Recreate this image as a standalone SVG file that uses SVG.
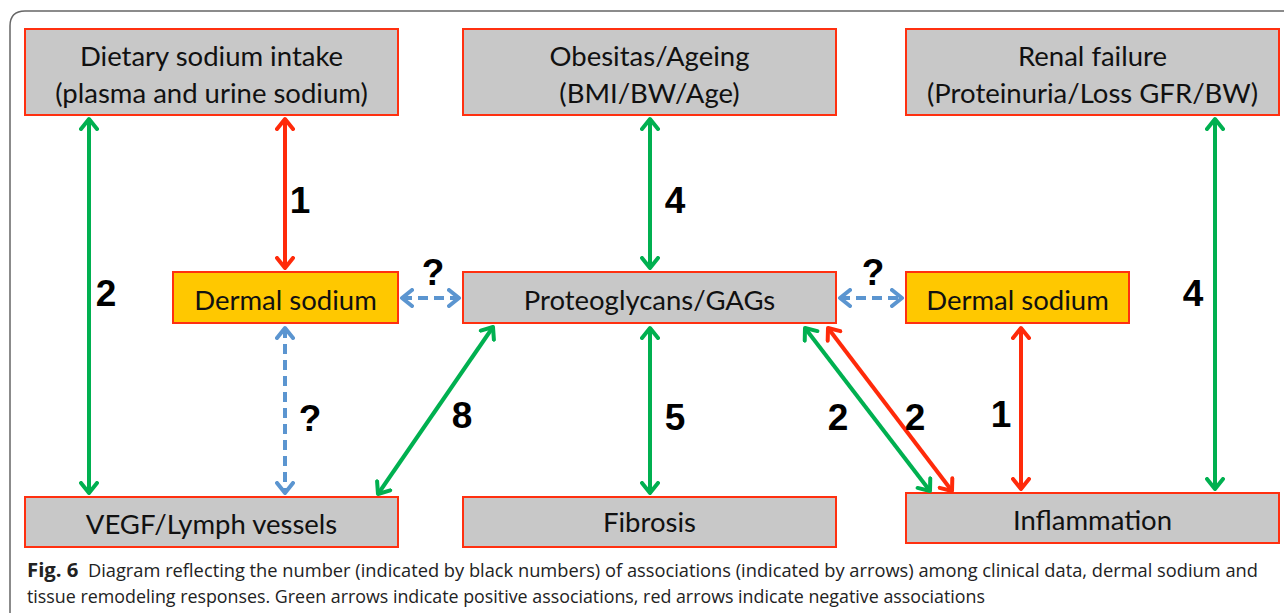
<svg xmlns="http://www.w3.org/2000/svg" width="1284" height="613" viewBox="0 0 1284 613">
<style>
.box{fill:#c8c8c8;stroke:#ff3010;stroke-width:2}
.yel{fill:#ffc800;stroke:#ff3010;stroke-width:2}
.t{font-family:Lato,"Noto Sans",sans-serif;font-size:27.5px;fill:#111;text-anchor:middle}
.n{font-family:"Liberation Sans",Arial,sans-serif;font-weight:bold;font-size:37px;fill:#000;text-anchor:middle}
.g{stroke:#00b050;stroke-width:4;fill:none;marker-start:url(#mg);marker-end:url(#mg)}
.r{stroke:#ff2a0a;stroke-width:4;fill:none;marker-start:url(#mr);marker-end:url(#mr)}
.b{stroke:#5b95d0;stroke-width:4;fill:none;stroke-dasharray:10,6;marker-start:url(#mb);marker-end:url(#mb)}
.cap{font-family:"Open Sans","Noto Sans",sans-serif;font-size:18px;fill:#222}
</style>
<defs>
<marker id="mg" viewBox="-12 -10 24 20" refX="0" refY="0" markerWidth="24" markerHeight="20" markerUnits="userSpaceOnUse" orient="auto-start-reverse"><path d="M-10,-8 L0,0 L-10,8" fill="none" stroke="#00b050" stroke-width="4" stroke-linecap="round" stroke-linejoin="round"/></marker>
<marker id="mr" viewBox="-12 -10 24 20" refX="0" refY="0" markerWidth="24" markerHeight="20" markerUnits="userSpaceOnUse" orient="auto-start-reverse"><path d="M-10,-8 L0,0 L-10,8" fill="none" stroke="#ff2a0a" stroke-width="4" stroke-linecap="round" stroke-linejoin="round"/></marker>
<marker id="mb" viewBox="-12 -10 24 20" refX="0" refY="0" markerWidth="24" markerHeight="20" markerUnits="userSpaceOnUse" orient="auto-start-reverse"><path d="M-10,-8 L0,0 L-10,8" fill="none" stroke="#5b95d0" stroke-width="4" stroke-linecap="round" stroke-linejoin="round"/></marker>
</defs>
<rect x="0" y="0" width="1284" height="613" fill="#fff"/>
<path d="M10,640 L10,26 Q10,11 25,11 L1300,11" fill="none" stroke="#666" stroke-width="1.5"/>

<g id="dietary"><rect class="box" x="25" y="29" width="373" height="86"/><text class="t" x="211.5" y="66">Dietary sodium intake</text><text class="t" x="211.5" y="103">(plasma and urine sodium)</text></g>
<g id="obesitas"><rect class="box" x="463" y="29" width="373" height="86"/><text class="t" x="649.5" y="66">Obesitas/Ageing</text><text class="t" x="649.5" y="103">(BMI/BW/Age)</text></g>
<g id="renal"><rect class="box" x="906" y="29" width="373" height="86"/><text class="t" x="1092.5" y="66">Renal failure</text><text class="t" x="1092.5" y="103">(Proteinuria/Loss GFR/BW)</text></g>
<g id="dermal-left"><rect class="yel" x="173" y="272" width="225" height="51"/><text class="t" x="285.5" y="310">Dermal sodium</text></g>
<g id="proteoglycans"><rect class="box" x="463" y="272" width="373" height="51"/><text class="t" x="649.5" y="310">Proteoglycans/GAGs</text></g>
<g id="dermal-right"><rect class="yel" x="906" y="272" width="223" height="51"/><text class="t" x="1017.5" y="310">Dermal sodium</text></g>
<g id="vegf"><rect class="box" x="25" y="497" width="373" height="50"/><text class="t" x="211.5" y="534">VEGF/Lymph vessels</text></g>
<g id="fibrosis"><rect class="box" x="463" y="497" width="373" height="50"/><text class="t" x="649.5" y="532">Fibrosis</text></g>
<g id="inflammation"><rect class="box" x="906" y="493" width="373" height="50"/><text class="t" x="1092.5" y="530">Inflammation</text></g>

<g id="connectors">
<line class="g" x1="89" y1="119" x2="89" y2="493"/>
<line class="r" x1="285" y1="119" x2="285" y2="268"/>
<line class="b" x1="285" y1="328" x2="285" y2="493"/>
<line class="b" x1="402" y1="298" x2="459" y2="298"/>
<line class="g" x1="650" y1="119" x2="650" y2="268"/>
<line class="g" x1="650" y1="328" x2="650" y2="493"/>
<line class="g" x1="493" y1="327" x2="378" y2="494"/>
<line class="b" x1="840" y1="298" x2="902" y2="298"/>
<line class="g" x1="805" y1="328" x2="930" y2="491"/>
<line class="r" x1="828" y1="328" x2="952" y2="491"/>
<line class="r" x1="1021" y1="328" x2="1021" y2="489"/>
<line class="g" x1="1215" y1="119" x2="1215" y2="489"/>
</g>

<g id="labels">
<text class="n" x="106" y="306">2</text>
<text class="n" x="300" y="213">1</text>
<text class="n" x="310" y="431">?</text>
<text class="n" x="433" y="285">?</text>
<text class="n" x="675" y="213">4</text>
<text class="n" x="675" y="430">5</text>
<text class="n" x="462" y="428">8</text>
<text class="n" x="873" y="285">?</text>
<text class="n" x="838" y="430">2</text>
<text class="n" x="915" y="430">2</text>
<text class="n" x="1001" y="427">1</text>
<text class="n" x="1193" y="306">4</text>
</g>

<g id="caption">
<text class="cap" x="27" y="577" textLength="1231" lengthAdjust="spacingAndGlyphs"><tspan font-weight="bold" font-size="20">Fig. 6</tspan>&#160;&#160;Diagram reflecting the number (indicated by black numbers) of associations (indicated by arrows) among clinical data, dermal sodium and</text>
<text class="cap" x="27" y="603" textLength="958" lengthAdjust="spacingAndGlyphs">tissue remodeling responses. Green arrows indicate positive associations, red arrows indicate negative associations</text>
</g>
</svg>
